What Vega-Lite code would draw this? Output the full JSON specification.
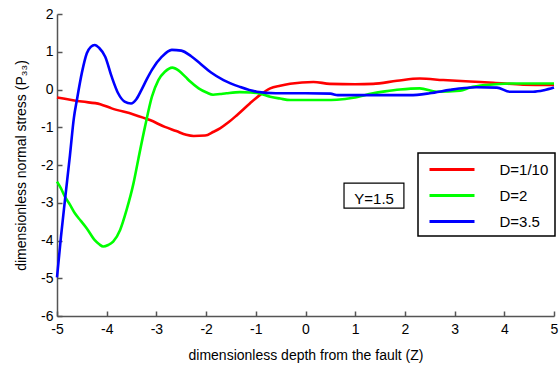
{
  "$schema": "https://vega.github.io/schema/vega-lite/v6.json",
  "width": 497,
  "height": 302,
  "autosize": {"type": "none"},
  "padding": {"left": 57, "top": 14, "right": 6, "bottom": 51},
  "background": "white",
  "config": {
    "view": {"stroke": null},
    "font": "Liberation Sans",
    "axis": {
      "grid": false,
      "domainColor": "#555555",
      "domainWidth": 1.5,
      "tickColor": "#555555",
      "tickWidth": 1.5,
      "tickSize": -5,
      "labelColor": "black",
      "labelFontSize": 14,
      "labelFont": "Liberation Sans",
      "labelOverlap": false,
      "titleFont": "Liberation Sans",
      "titleFontSize": 14,
      "titleFontWeight": "normal",
      "titleColor": "black"
    }
  },
  "datasets": {
    "curves": [
      {"z": -5.0, "p": -0.21, "D": "D=1/10"},
      {"z": -4.5, "p": -0.32, "D": "D=1/10"},
      {"z": -4.13, "p": -0.39, "D": "D=1/10"},
      {"z": -3.9, "p": -0.5, "D": "D=1/10"},
      {"z": -3.46, "p": -0.66, "D": "D=1/10"},
      {"z": -3.13, "p": -0.81, "D": "D=1/10"},
      {"z": -2.83, "p": -0.99, "D": "D=1/10"},
      {"z": -2.6, "p": -1.1, "D": "D=1/10"},
      {"z": -2.4, "p": -1.2, "D": "D=1/10"},
      {"z": -2.25, "p": -1.23, "D": "D=1/10"},
      {"z": -2.02, "p": -1.22, "D": "D=1/10"},
      {"z": -1.85, "p": -1.12, "D": "D=1/10"},
      {"z": -1.72, "p": -1.03, "D": "D=1/10"},
      {"z": -1.55, "p": -0.87, "D": "D=1/10"},
      {"z": -1.38, "p": -0.68, "D": "D=1/10"},
      {"z": -1.12, "p": -0.37, "D": "D=1/10"},
      {"z": -0.92, "p": -0.15, "D": "D=1/10"},
      {"z": -0.71, "p": 0.03, "D": "D=1/10"},
      {"z": -0.51, "p": 0.1, "D": "D=1/10"},
      {"z": -0.31, "p": 0.15, "D": "D=1/10"},
      {"z": 0.16, "p": 0.2, "D": "D=1/10"},
      {"z": 0.49, "p": 0.15, "D": "D=1/10"},
      {"z": 1.0, "p": 0.14, "D": "D=1/10"},
      {"z": 1.36, "p": 0.15, "D": "D=1/10"},
      {"z": 1.84, "p": 0.23, "D": "D=1/10"},
      {"z": 2.3, "p": 0.29, "D": "D=1/10"},
      {"z": 2.77, "p": 0.25, "D": "D=1/10"},
      {"z": 3.31, "p": 0.21, "D": "D=1/10"},
      {"z": 3.78, "p": 0.18, "D": "D=1/10"},
      {"z": 4.38, "p": 0.13, "D": "D=1/10"},
      {"z": 5.0, "p": 0.12, "D": "D=1/10"},

      {"z": -5.0, "p": -2.44, "D": "D=2"},
      {"z": -4.92, "p": -2.62, "D": "D=2"},
      {"z": -4.84, "p": -2.84, "D": "D=2"},
      {"z": -4.74, "p": -3.05, "D": "D=2"},
      {"z": -4.64, "p": -3.28, "D": "D=2"},
      {"z": -4.52, "p": -3.48, "D": "D=2"},
      {"z": -4.4, "p": -3.68, "D": "D=2"},
      {"z": -4.24, "p": -3.99, "D": "D=2"},
      {"z": -4.15, "p": -4.1, "D": "D=2"},
      {"z": -4.07, "p": -4.16, "D": "D=2"},
      {"z": -3.97, "p": -4.12, "D": "D=2"},
      {"z": -3.87, "p": -4.03, "D": "D=2"},
      {"z": -3.73, "p": -3.72, "D": "D=2"},
      {"z": -3.6, "p": -3.19, "D": "D=2"},
      {"z": -3.46, "p": -2.48, "D": "D=2"},
      {"z": -3.36, "p": -1.82, "D": "D=2"},
      {"z": -3.23, "p": -0.99, "D": "D=2"},
      {"z": -3.09, "p": -0.19, "D": "D=2"},
      {"z": -2.96, "p": 0.25, "D": "D=2"},
      {"z": -2.83, "p": 0.47, "D": "D=2"},
      {"z": -2.68, "p": 0.58, "D": "D=2"},
      {"z": -2.55, "p": 0.5, "D": "D=2"},
      {"z": -2.42, "p": 0.34, "D": "D=2"},
      {"z": -2.32, "p": 0.21, "D": "D=2"},
      {"z": -2.15, "p": 0.03, "D": "D=2"},
      {"z": -1.99, "p": -0.08, "D": "D=2"},
      {"z": -1.86, "p": -0.14, "D": "D=2"},
      {"z": -1.72, "p": -0.12, "D": "D=2"},
      {"z": -1.59, "p": -0.1, "D": "D=2"},
      {"z": -1.32, "p": -0.07, "D": "D=2"},
      {"z": -1.1, "p": -0.08, "D": "D=2"},
      {"z": -0.92, "p": -0.11, "D": "D=2"},
      {"z": -0.71, "p": -0.19, "D": "D=2"},
      {"z": -0.51, "p": -0.24, "D": "D=2"},
      {"z": -0.31, "p": -0.28, "D": "D=2"},
      {"z": 0.0, "p": -0.28, "D": "D=2"},
      {"z": 0.4, "p": -0.28, "D": "D=2"},
      {"z": 0.63, "p": -0.27, "D": "D=2"},
      {"z": 0.96, "p": -0.22, "D": "D=2"},
      {"z": 1.36, "p": -0.1, "D": "D=2"},
      {"z": 1.6, "p": -0.05, "D": "D=2"},
      {"z": 1.9, "p": 0.0, "D": "D=2"},
      {"z": 2.3, "p": 0.03, "D": "D=2"},
      {"z": 2.64, "p": -0.06, "D": "D=2"},
      {"z": 3.11, "p": -0.03, "D": "D=2"},
      {"z": 3.31, "p": 0.05, "D": "D=2"},
      {"z": 3.65, "p": 0.12, "D": "D=2"},
      {"z": 4.11, "p": 0.16, "D": "D=2"},
      {"z": 5.0, "p": 0.16, "D": "D=2"},

      {"z": -5.0, "p": -4.98, "D": "D=3.5"},
      {"z": -4.92, "p": -3.9, "D": "D=3.5"},
      {"z": -4.84, "p": -2.93, "D": "D=3.5"},
      {"z": -4.74, "p": -1.75, "D": "D=3.5"},
      {"z": -4.66, "p": -0.75, "D": "D=3.5"},
      {"z": -4.6, "p": -0.28, "D": "D=3.5"},
      {"z": -4.5, "p": 0.44, "D": "D=3.5"},
      {"z": -4.4, "p": 0.96, "D": "D=3.5"},
      {"z": -4.32, "p": 1.13, "D": "D=3.5"},
      {"z": -4.24, "p": 1.18, "D": "D=3.5"},
      {"z": -4.15, "p": 1.1, "D": "D=3.5"},
      {"z": -4.03, "p": 0.87, "D": "D=3.5"},
      {"z": -3.9, "p": 0.34, "D": "D=3.5"},
      {"z": -3.77, "p": -0.1, "D": "D=3.5"},
      {"z": -3.64, "p": -0.32, "D": "D=3.5"},
      {"z": -3.51, "p": -0.37, "D": "D=3.5"},
      {"z": -3.4, "p": -0.25, "D": "D=3.5"},
      {"z": -3.3, "p": -0.01, "D": "D=3.5"},
      {"z": -3.19, "p": 0.28, "D": "D=3.5"},
      {"z": -3.09, "p": 0.52, "D": "D=3.5"},
      {"z": -2.89, "p": 0.87, "D": "D=3.5"},
      {"z": -2.69, "p": 1.05, "D": "D=3.5"},
      {"z": -2.5, "p": 1.03, "D": "D=3.5"},
      {"z": -2.3, "p": 0.88, "D": "D=3.5"},
      {"z": -2.12, "p": 0.69, "D": "D=3.5"},
      {"z": -1.9, "p": 0.45, "D": "D=3.5"},
      {"z": -1.65, "p": 0.25, "D": "D=3.5"},
      {"z": -1.32, "p": 0.07, "D": "D=3.5"},
      {"z": -0.98, "p": -0.06, "D": "D=3.5"},
      {"z": -0.6, "p": -0.1, "D": "D=3.5"},
      {"z": -0.3, "p": -0.1, "D": "D=3.5"},
      {"z": 0.0, "p": -0.1, "D": "D=3.5"},
      {"z": 0.5, "p": -0.11, "D": "D=3.5"},
      {"z": 0.65, "p": -0.15, "D": "D=3.5"},
      {"z": 1.0, "p": -0.15, "D": "D=3.5"},
      {"z": 1.5, "p": -0.15, "D": "D=3.5"},
      {"z": 2.1, "p": -0.15, "D": "D=3.5"},
      {"z": 2.5, "p": -0.1, "D": "D=3.5"},
      {"z": 2.91, "p": -0.01, "D": "D=3.5"},
      {"z": 3.2, "p": 0.04, "D": "D=3.5"},
      {"z": 3.44, "p": 0.06, "D": "D=3.5"},
      {"z": 3.85, "p": 0.05, "D": "D=3.5"},
      {"z": 4.11, "p": -0.06, "D": "D=3.5"},
      {"z": 4.58, "p": -0.06, "D": "D=3.5"},
      {"z": 4.8, "p": -0.02, "D": "D=3.5"},
      {"z": 5.0, "p": 0.05, "D": "D=3.5"}
    ],
    "note": [
      {"label": "Y=1.5", "x0": 0.775, "x1": 1.98, "y0": -2.48, "y1": -3.14, "xc": 1.38, "yc": -2.9}
    ]
  },
  "layer": [
    {
      "data": {"name": "curves"},
      "mark": {"type": "line", "strokeWidth": 2.6, "interpolate": "monotone"},
      "encoding": {
        "x": {
          "field": "z", "type": "quantitative",
          "scale": {"domain": [-5, 5], "nice": false},
          "axis": {"values": [-5, -4, -3, -2, -1, 0, 1, 2, 3, 4, 5], "labelExpr": "replace(datum.label, '\u2212', '-')", "labelPadding": 11, "title": "dimensionless depth from the fault (Z)", "titlePadding": 12, "labelFlush": false, "labelOverlap": false}
        },
        "y": {
          "field": "p", "type": "quantitative",
          "scale": {"domain": [-6, 2], "nice": false, "zero": false},
          "axis": {"values": [-6, -5, -4, -3, -2, -1, 0, 1, 2], "labelExpr": "replace(datum.label, '\u2212', '-')", "tickCount": 9, "labelPadding": 9, "title": "dimensionless normal stress (P₃₃)", "titlePadding": 12, "labelFlush": false, "labelOverlap": false, "labelBound": false}
        },
        "color": {
          "field": "D", "type": "nominal",
          "scale": {"domain": ["D=1/10", "D=2", "D=3.5"], "range": ["#ff0000", "#00ff00", "#0000ff"]},
          "legend": {
            "title": null,
            "orient": "none",
            "legendX": 361,
            "legendY": 139,
            "fillColor": "white",
            "strokeColor": "black",
            "padding": 6,
            "symbolType": "M-2.5,0H2.5",
            "symbolSize": 324,
            "symbolStrokeWidth": 3,
            "symbolOffset": 17.5,
            "labelFontSize": 15,
            "labelFont": "Liberation Sans",
            "labelColor": "black",
            "labelOffset": 37,
            "rowPadding": 7,
            "encode": {"legend": {"update": {"strokeWidth": {"value": 1.5}}}}
          }
        }
      }
    },
    {
      "data": {"name": "note"},
      "mark": {"type": "rect", "fill": "white", "stroke": "black", "strokeWidth": 1.2},
      "encoding": {
        "x": {"field": "x0", "type": "quantitative"},
        "x2": {"field": "x1"},
        "y": {"field": "y0", "type": "quantitative"},
        "y2": {"field": "y1"}
      }
    },
    {
      "data": {"name": "note"},
      "mark": {"type": "text", "fontSize": 15, "font": "Liberation Sans", "color": "black", "baseline": "middle", "align": "center"},
      "encoding": {
        "x": {"field": "xc", "type": "quantitative"},
        "y": {"field": "yc", "type": "quantitative"},
        "text": {"field": "label", "type": "nominal"}
      }
    }
  ]
}
